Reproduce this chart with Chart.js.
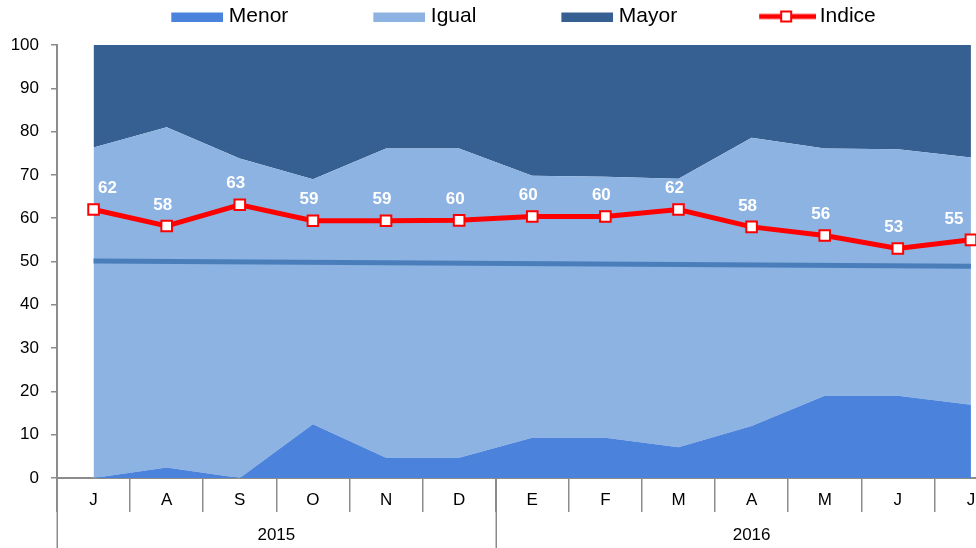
<!DOCTYPE html>
<html>
<head>
<meta charset="utf-8">
<script src="https://cdn.jsdelivr.net/npm/chart.js@4.4.1/dist/chart.umd.min.js"></script>
<style>
html,body{margin:0;padding:0;overflow:hidden;background:#fff;width:976px;height:548px;}
#wrap{position:absolute;left:0;top:0;width:1017px;height:548px;}
</style>
</head>
<body>
<div id="wrap"><canvas id="c" width="1017" height="548"></canvas></div>
<script>
// ---- data ----
const months = ['J','A','S','O','N','D','E','F','M','A','M','J','J'];
const years = ['2015','2016'];
const yearCounts = [6, 7];
const menor = [0, 2.4, 0, 12.4, 4.7, 4.7, 9.3, 9.3, 7.1, 12.0, 19.0, 19.0, 16.9];
const igual = [76.3, 78.6, 73.8, 56.6, 71.4, 71.4, 60.5, 60.3, 62.0, 66.6, 57.1, 56.9, 57.1];
const mayor = [23.7, 19.0, 26.2, 31.0, 23.9, 23.9, 30.2, 30.4, 30.9, 21.4, 23.9, 24.1, 26.0];
const indice = [62.0, 58.2, 63.1, 59.4, 59.4, 59.5, 60.4, 60.4, 62.0, 58.0, 56.0, 53.0, 55.0];
const referencia = [50.1, null, null, null, null, null, null, null, null, null, null, null, 48.9];
const yTicks = [0,10,20,30,40,50,60,70,80,90,100];

const C_MENOR = '#4a82dc', C_IGUAL = '#8db3e2', C_MAYOR = '#376092', C_REF = '#4a7ebb', C_RED = '#ff0000';
const GREY = '#8c8c8c';
const FONT = 'Liberation Sans, Arial, sans-serif';
const LB = 126; // legend box slot width

function legendImg(kind, color){
  const cv = document.createElement('canvas');
  if(kind === 'box'){
    cv.width = LB + 10; cv.height = 10;
    const g = cv.getContext('2d');
    g.fillStyle = color; g.fillRect(LB - 42, 1, 52, 9);
  } else {
    cv.width = LB + 14; cv.height = 14;
    const g = cv.getContext('2d');
    g.strokeStyle = C_RED; g.lineWidth = 5;
    g.beginPath(); g.moveTo(LB - 43, 7); g.lineTo(LB + 14, 7); g.stroke();
    const cx = LB - 43 + 27;
    g.fillStyle = '#fff'; g.fillRect(cx - 5, 2, 10, 10);
    g.lineWidth = 2; g.strokeRect(cx - 5, 2, 10, 10);
  }
  return cv;
}

const patchPlugin = {
  id: 'patch',
  beforeLayout(chart){
    const lg = chart.legend;
    if(lg && !lg._patched){
      const orig = lg.fit;
      lg.fit = function(){ orig.call(this); this.height = 45; };
      lg._patched = true;
    }
  },
  afterLayout(chart){
    const lg = chart.legend;
    if(lg){ lg.left -= 24; lg.right -= 24; }
  }
};

const labelPlugin = {
  id: 'ptlabels',
  afterDatasetsDraw(chart){
    const idx = chart.data.datasets.findIndex(d => d.label === 'Indice');
    const meta = chart.getDatasetMeta(idx);
    const ctx = chart.ctx;
    ctx.save();
    ctx.font = 'bold 17px ' + FONT;
    ctx.fillStyle = '#ffffff';
    ctx.textAlign = 'center';
    ctx.textBaseline = 'middle';
    const n = meta.data.length;
    meta.data.forEach((el, i) => {
      let dx = -4;
      if(i === 0) dx = 14;
      if(i === n-1) dx = -17;
      ctx.fillText(String(Math.round(indice[i])), el.x + dx, el.y - 21);
    });
    ctx.restore();
  }
};

const yearPlugin = {
  id: 'years',
  afterDraw(chart){
    const xs = chart.scales.x;
    const ctx = chart.ctx;
    const bottom = chart.chartArea.bottom;
    const w = xs.getPixelForValue(1) - xs.getPixelForValue(0);
    ctx.save();
    ctx.strokeStyle = GREY; ctx.lineWidth = 1.5;
    let start = 0;
    const bounds = [xs.getPixelForValue(0) - w/2];
    years.forEach((y, k) => {
      const end = start + yearCounts[k] - 1;
      const l = xs.getPixelForValue(start) - w/2;
      const r = xs.getPixelForValue(end) + w/2;
      bounds.push(r);
      ctx.fillStyle = '#000';
      ctx.font = '17px ' + FONT;
      ctx.textAlign = 'center'; ctx.textBaseline = 'middle';
      ctx.fillText(y, (l + r)/2, 535);
      start = end + 1;
    });
    bounds.forEach(b => {
      ctx.beginPath(); ctx.moveTo(Math.round(b)+0.25, bottom); ctx.lineTo(Math.round(b)+0.25, chart.height); ctx.stroke();
    });
    ctx.restore();
  }
};

new Chart(document.getElementById('c'), {
  type: 'line',
  data: {
    labels: months,
    datasets: [
      {label:'Menor', data: menor, stack:'areas', fill:'origin', backgroundColor:C_MENOR, borderColor:C_MENOR, borderWidth:0, pointRadius:0, order:3, tension:0},
      {label:'Igual', data: igual, stack:'areas', fill:'-1', backgroundColor:C_IGUAL, borderColor:C_IGUAL, borderWidth:0, pointRadius:0, order:3, tension:0},
      {label:'Mayor', data: mayor, stack:'areas', fill:'-1', backgroundColor:C_MAYOR, borderColor:C_MAYOR, borderWidth:0, pointRadius:0, order:3, tension:0},
      {label:'Indice', data: indice, stack:'idx', fill:false, borderColor:C_RED, backgroundColor:'#fff', borderWidth:5,
        pointStyle:'rect', pointRadius:7.5, pointBorderWidth:2, pointBorderColor:C_RED, pointBackgroundColor:'#fff', order:0, tension:0},
      {label:'ref', data: referencia, stack:'ref', fill:false, spanGaps:true, borderColor:C_REF, borderWidth:5, pointRadius:0, order:1, tension:0}
    ]
  },
  options: {
    responsive:false, animation:false, devicePixelRatio:1,
    layout:{padding:{left:0,right:1,top:0,bottom:0}},
    plugins:{
      tooltip:{enabled:false},
      legend:{
        display:true, position:'top',
        labels:{
          color:'#000', font:{family:FONT, size:21}, padding:6,
          usePointStyle:true, boxWidth:LB, boxHeight:10, pointStyleWidth:LB,
          filter: (it) => it.text !== 'ref',
          generateLabels(chart){
            return chart.data.datasets.map((d, i) => ({
              text: d.label, datasetIndex: i, hidden:false, lineWidth:0,
              fillStyle:'transparent', strokeStyle:'transparent', fontColor:'#000',
              pointStyle: d.label === 'Indice' ? legendImg('line') : legendImg('box', d.backgroundColor)
            }));
          }
        }
      }
    },
    scales:{
      x:{
        type:'category', offset:true,
        grid:{display:true, offset:true, drawOnChartArea:false, drawTicks:true, tickLength:34, color:GREY, lineWidth:1.5},
        border:{display:true, color:GREY, width:2},
        ticks:{color:'#000', font:{family:FONT, size:17}, padding:-22, maxRotation:0, autoSkip:false},
        afterFit(s){ s.height = 70; }
      },
      y:{
        stacked:true, min:0, max:100,
        afterBuildTicks(s){ s.ticks = yTicks.map(v => ({value:v})); },
        grid:{display:true, drawOnChartArea:false, drawTicks:true, tickLength:6, color:GREY, lineWidth:1.5},
        border:{display:true, color:GREY, width:2},
        ticks:{color:'#000', font:{family:FONT, size:17}, padding:12},
        afterFit(s){ s.width = 57; }
      }
    }
  },
  plugins:[patchPlugin, labelPlugin, yearPlugin]
});
</script>
</body>
</html>
